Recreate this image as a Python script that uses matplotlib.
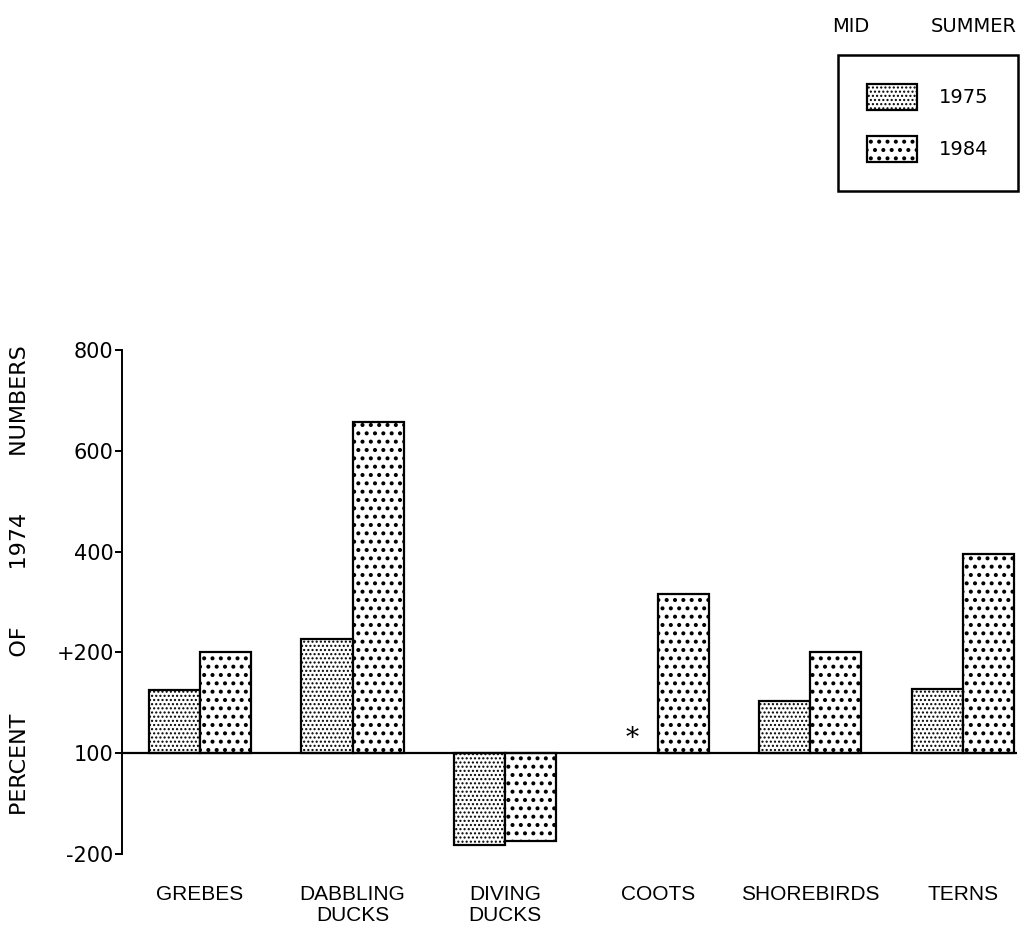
import numpy as np
import matplotlib.pyplot as plt

categories = ["GREBES", "DABBLING\nDUCKS", "DIVING\nDUCKS", "COOTS", "SHOREBIRDS", "TERNS"]
# percent of 1974 numbers; None = no 1975 count (marked with *)
pct_1975 = [163, 226, -174, None, 152, 164]
pct_1984 = [200, 658, -162, 316, 200, 395]

# the printed axis is not linear: labelled values sit at equal steps
tick_values = [-200, 100, 200, 400, 600, 800]
tick_labels = ["-200", "100", "+200", "400", "600", "800"]


def to_axis(v):
    return np.interp(v, tick_values, np.arange(len(tick_values))) - 1


plt.rcParams["hatch.linewidth"] = 1.7

fig = plt.figure(figsize=(10.26, 9.4), dpi=100)
ax = fig.add_axes([0.1189, 0.0915, 0.8723, 0.5362])

x = np.arange(len(categories))
w = 0.335

h75 = [to_axis(v) if v is not None else 0 for v in pct_1975]
h84 = [to_axis(v) for v in pct_1984]

b75 = ax.bar(x - w / 2, h75, w, facecolor="white", edgecolor="black",
             linewidth=1.6, hatch="....", label="1975")
b84 = ax.bar(x + w / 2, h84, w, facecolor="white", edgecolor="black",
             linewidth=1.6, hatch="..", label="1984")

# finer dots for the dense pattern, heavier dots for the coarse one
for p in b75:
    if hasattr(p, "set_hatch_linewidth"):
        p.set_hatch_linewidth(1.0)

# hide the empty 1975 coots bar and mark it instead
for i, v in enumerate(pct_1975):
    if v is None:
        b75[i].set_visible(False)
        ax.text(x[i] - w / 2, 0.02, "*", ha="center", va="bottom",
                fontsize=19, family="DejaVu Serif")

ax.axhline(0, color="black", lw=1.6, zorder=3)

ax.set_xlim(-0.511, 5.354)
ax.set_ylim(-1, 4)
ax.set_yticks(np.arange(len(tick_values)) - 1)
ax.set_yticklabels(tick_labels, fontsize=15)
ax.tick_params(axis="y", direction="out", length=5, width=1.4, pad=1)

ax.set_xticks(x)
ax.set_xticklabels(categories, fontsize=15, family="Liberation Sans",
                   linespacing=1.15)
ax.tick_params(axis="x", length=0, pad=22)

for s in ["top", "right", "bottom"]:
    ax.spines[s].set_visible(False)
ax.spines["left"].set_linewidth(1.4)
ax.spines["left"].set_bounds(-1, 4)

fig.text(20 / 1026, 1 - 580 / 940,
         "PERCENT        OF        1974        NUMBERS",
         rotation=90, ha="center", va="center", fontsize=16)

fig.text(851 / 1026, 1 - 26 / 940, "MID", ha="center", va="center", fontsize=14)
fig.text(974 / 1026, 1 - 26 / 940, "SUMMER", ha="center", va="center", fontsize=14)

leg = ax.legend(handles=[b75, b84], loc="upper right",
                bbox_to_anchor=(1018 / 1026, 1 - 55 / 940),
                bbox_transform=fig.transFigure, fontsize=14,
                frameon=True, fancybox=False, framealpha=1,
                handlelength=2.55, handleheight=1.65, labelspacing=1.35,
                borderpad=1.5, handletextpad=1.15, borderaxespad=0)
leg.get_frame().set_edgecolor("black")
leg.get_frame().set_linewidth(1.8)
h = leg.legend_handles[0]
if hasattr(h, "set_hatch_linewidth"):
    h.set_hatch_linewidth(1.0)

fig.savefig("out.png", dpi=100)
